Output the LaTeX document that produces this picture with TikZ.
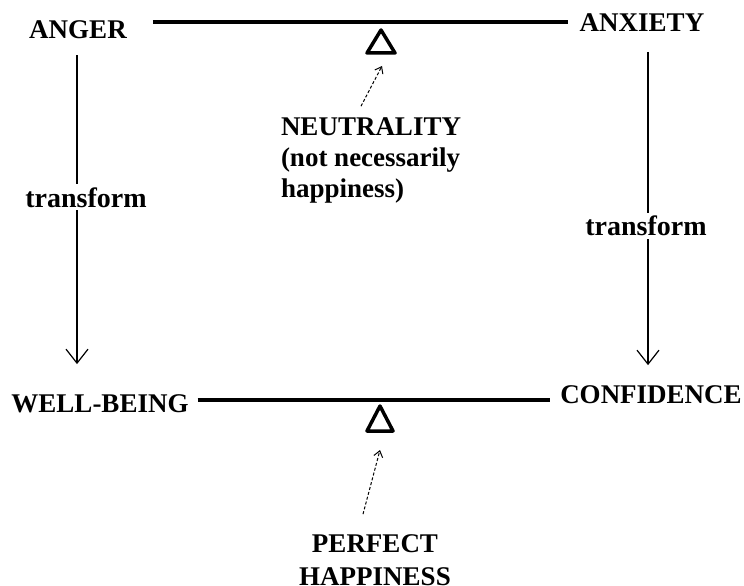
\documentclass[tikz,border=0pt]{standalone}
\usepackage{fontspec}
\setmainfont{Liberation Serif}
\usetikzlibrary{calc,arrows.meta}

\begin{document}
\begin{tikzpicture}[
        x=1pt, y=-1pt,
        word/.style={
                inner sep=0pt,
                outer sep=0pt,
                font=\fontsize{27}{31}\selectfont\bfseries
            },
        beam/.style={line width=4.5pt},
        fulcrum/.style={line width=3.5pt, line join=round},
        flow/.style={line width=1.3pt, -{Straight Barb[length=14pt, width=22pt, line width=1.2pt]}},
        pointer/.style={line width=1pt, densely dashed, -{Straight Barb[length=6pt, width=9pt, line width=1pt, sep=0pt]}}
    ]
    \useasboundingbox (0,0) rectangle (744,586);

    % ---- top balance ----
    \node[word, anchor=base] (anger) at (78,39) {ANGER};
    \node[word, anchor=base] (anxiety) at (642,32) {ANXIETY};
    \coordinate (topPivot) at (381,22);
    \draw[beam] ($(anger.east |- topPivot)+(26,0)$) -- ($(anxiety.west |- topPivot)+(-12,0)$);
    \draw[fulcrum] ($(topPivot)+(0,8)$) -- ++(14,23) -- ++(-28,0) -- cycle;

    % base anchor sits on the last line
    \node[word, anchor=base west, align=left] (neutral) at (281,197)
    {NEUTRALITY\\(not necessarily\\happiness)};
    \draw[pointer] ($(neutral.north west)+(80,-11)$) -- ($(topPivot)+(1,44)$);

    % ---- bottom balance ----
    \node[word, anchor=base] (wellbeing) at (100,412) {WELL-BEING};
    \node[word, anchor=base] (confidence) at (651,403) {CONFIDENCE};
    \coordinate (lowPivot) at (380,400);
    \draw[beam] ($(wellbeing.east |- lowPivot)+(9,0)$) -- ($(confidence.west |- lowPivot)+(-10,0)$);
    \draw[fulcrum] ($(lowPivot)+(0,6)$) -- ++(13,25) -- ++(-26,0) -- cycle;

    \node[word, anchor=base, align=center, font=\fontsize{27}{33}\selectfont\bfseries] (perfect) at (375,585) {PERFECT\\HAPPINESS};
    \draw[pointer] ($(perfect.north)+(-12,-20)$) -- ($(lowPivot)+(0,50)$);

    % ---- transform arrows ----
    \draw[flow] ($(anger.south)+(-1,16)$) -- ($(anger.south |- wellbeing.north)+(-1,-30)$)
    node[word, pos=0.46, fill=white, inner sep=3pt, xshift=9pt, font=\fontsize{28}{31}\selectfont\bfseries] (leftturn) {transform};
    \draw[flow] ($(anxiety.south)+(6,20)$) -- ($(anxiety.south |- confidence.north)+(6,-20)$)
    node[word, pos=0.555, fill=white, inner sep=3pt, xshift=-2pt, font=\fontsize{28}{31}\selectfont\bfseries] (rightturn) {transform};
\end{tikzpicture}
\end{document}
